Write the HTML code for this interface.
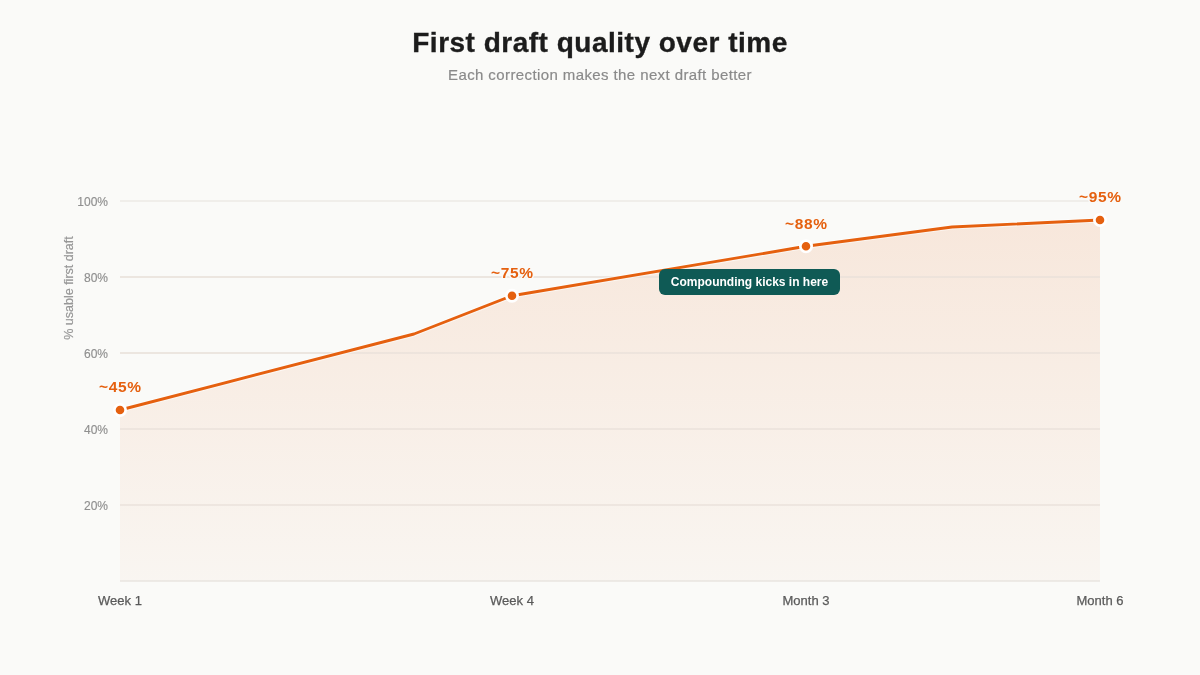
<!DOCTYPE html>
<html><head><meta charset="utf-8">
<style>
html,body{margin:0;padding:0;}
body{width:1200px;height:675px;background:#FAFAF8;overflow:hidden;position:relative;font-family:"Liberation Sans",sans-serif;}
.t{position:absolute;white-space:nowrap;}
#title{left:0;width:1200px;text-align:center;top:26px;font-size:28px;font-weight:bold;color:#1C1C1C;line-height:34px;letter-spacing:0.5px;-webkit-text-stroke:0.35px #1C1C1C;}
#sub{left:0;width:1200px;text-align:center;top:65px;font-size:15px;color:#8A8A8A;line-height:20px;letter-spacing:0.4px;-webkit-text-stroke:0.2px #8A8A8A;}
svg{position:absolute;left:0;top:0;will-change:transform;}
.t{will-change:transform;}
</style></head>
<body>
<div class="t" id="title">First draft quality over time</div>
<div class="t" id="sub">Each correction makes the next draft better</div>
<svg width="1200" height="675" viewBox="0 0 1200 675" style="font-family:'Liberation Sans',sans-serif">
  <defs>
    <linearGradient id="fg" x1="0" y1="0" x2="0" y2="1">
      <stop offset="0" stop-color="#F7E5D8"/>
      <stop offset="1" stop-color="#F9F5F0"/>
    </linearGradient>
  </defs>
  <g stroke="#ECEAE6" stroke-width="1.5">
    <line x1="120" y1="201" x2="1100" y2="201"/>
    <line x1="120" y1="277" x2="1100" y2="277"/>
    <line x1="120" y1="353" x2="1100" y2="353"/>
    <line x1="120" y1="429" x2="1100" y2="429"/>
    <line x1="120" y1="505" x2="1100" y2="505"/>
  </g>
  <path d="M120 410 L414 334 L512 295.7 L806 246.3 L952 227 L1100 220 L1100 581 L120 581 Z" fill="url(#fg)" opacity="0.9"/>
  <g stroke="#EAE2DB" stroke-width="1.5" opacity="0.9">
    <line x1="120" y1="277" x2="1100" y2="277"/>
    <line x1="120" y1="353" x2="1100" y2="353"/>
    <line x1="120" y1="429" x2="1100" y2="429"/>
    <line x1="120" y1="505" x2="1100" y2="505"/>
  </g>
  <line x1="120" y1="581" x2="1100" y2="581" stroke="#E8E5E1" stroke-width="1.5"/>
  <g fill="#8F8F8F" font-size="12" text-anchor="end" stroke="#8F8F8F" stroke-width="0.15">
    <text x="108" y="206">100%</text>
    <text x="108" y="282">80%</text>
    <text x="108" y="358">60%</text>
    <text x="108" y="434">40%</text>
    <text x="108" y="510">20%</text>
  </g>
  <text transform="translate(72.8 288) rotate(-90)" fill="#979797" font-size="12.5" stroke="#979797" stroke-width="0.2" text-anchor="middle">% usable first draft</text>
  <path d="M120 410 L414 334 L512 295.7 L806 246.3 L952 227 L1100 220" fill="none" stroke="#FFFFFF" stroke-width="5" stroke-linejoin="round" opacity="0.55"/>
  <path d="M120 410 L414 334 L512 295.7 L806 246.3 L952 227 L1100 220" fill="none" stroke="#E5600F" stroke-width="2.9" stroke-linejoin="round"/>
  <g fill="#E5600F" stroke="#FFFFFF" stroke-width="2.7">
    <circle cx="120" cy="410" r="5.65"/>
    <circle cx="512" cy="295.7" r="5.65"/>
    <circle cx="806" cy="246.3" r="5.65"/>
    <circle cx="1100" cy="220" r="5.65"/>
  </g>
  <g fill="#E5600F" font-size="15.5" font-weight="bold" text-anchor="middle" letter-spacing="0.6" stroke="#FAFAF8" stroke-width="3" paint-order="stroke" stroke-linejoin="round">
    <text x="120.3" y="392.3">~45%</text>
    <text x="512.3" y="278.3">~75%</text>
    <text x="806.3" y="229.3">~88%</text>
    <text x="1100.3" y="202.3">~95%</text>
  </g>
  <rect x="659" y="269" width="181" height="26" rx="6" fill="#0F5A55"/>
  <text x="749.5" y="286" fill="#FFFFFF" font-size="12" font-weight="bold" text-anchor="middle">Compounding kicks in here</text>
  <g fill="#5A5A5A" font-size="13" text-anchor="middle" stroke="#5A5A5A" stroke-width="0.25">
    <text x="120" y="605">Week 1</text>
    <text x="512" y="605">Week 4</text>
    <text x="806" y="605">Month 3</text>
    <text x="1100" y="605">Month 6</text>
  </g>
</svg>
</body></html>
